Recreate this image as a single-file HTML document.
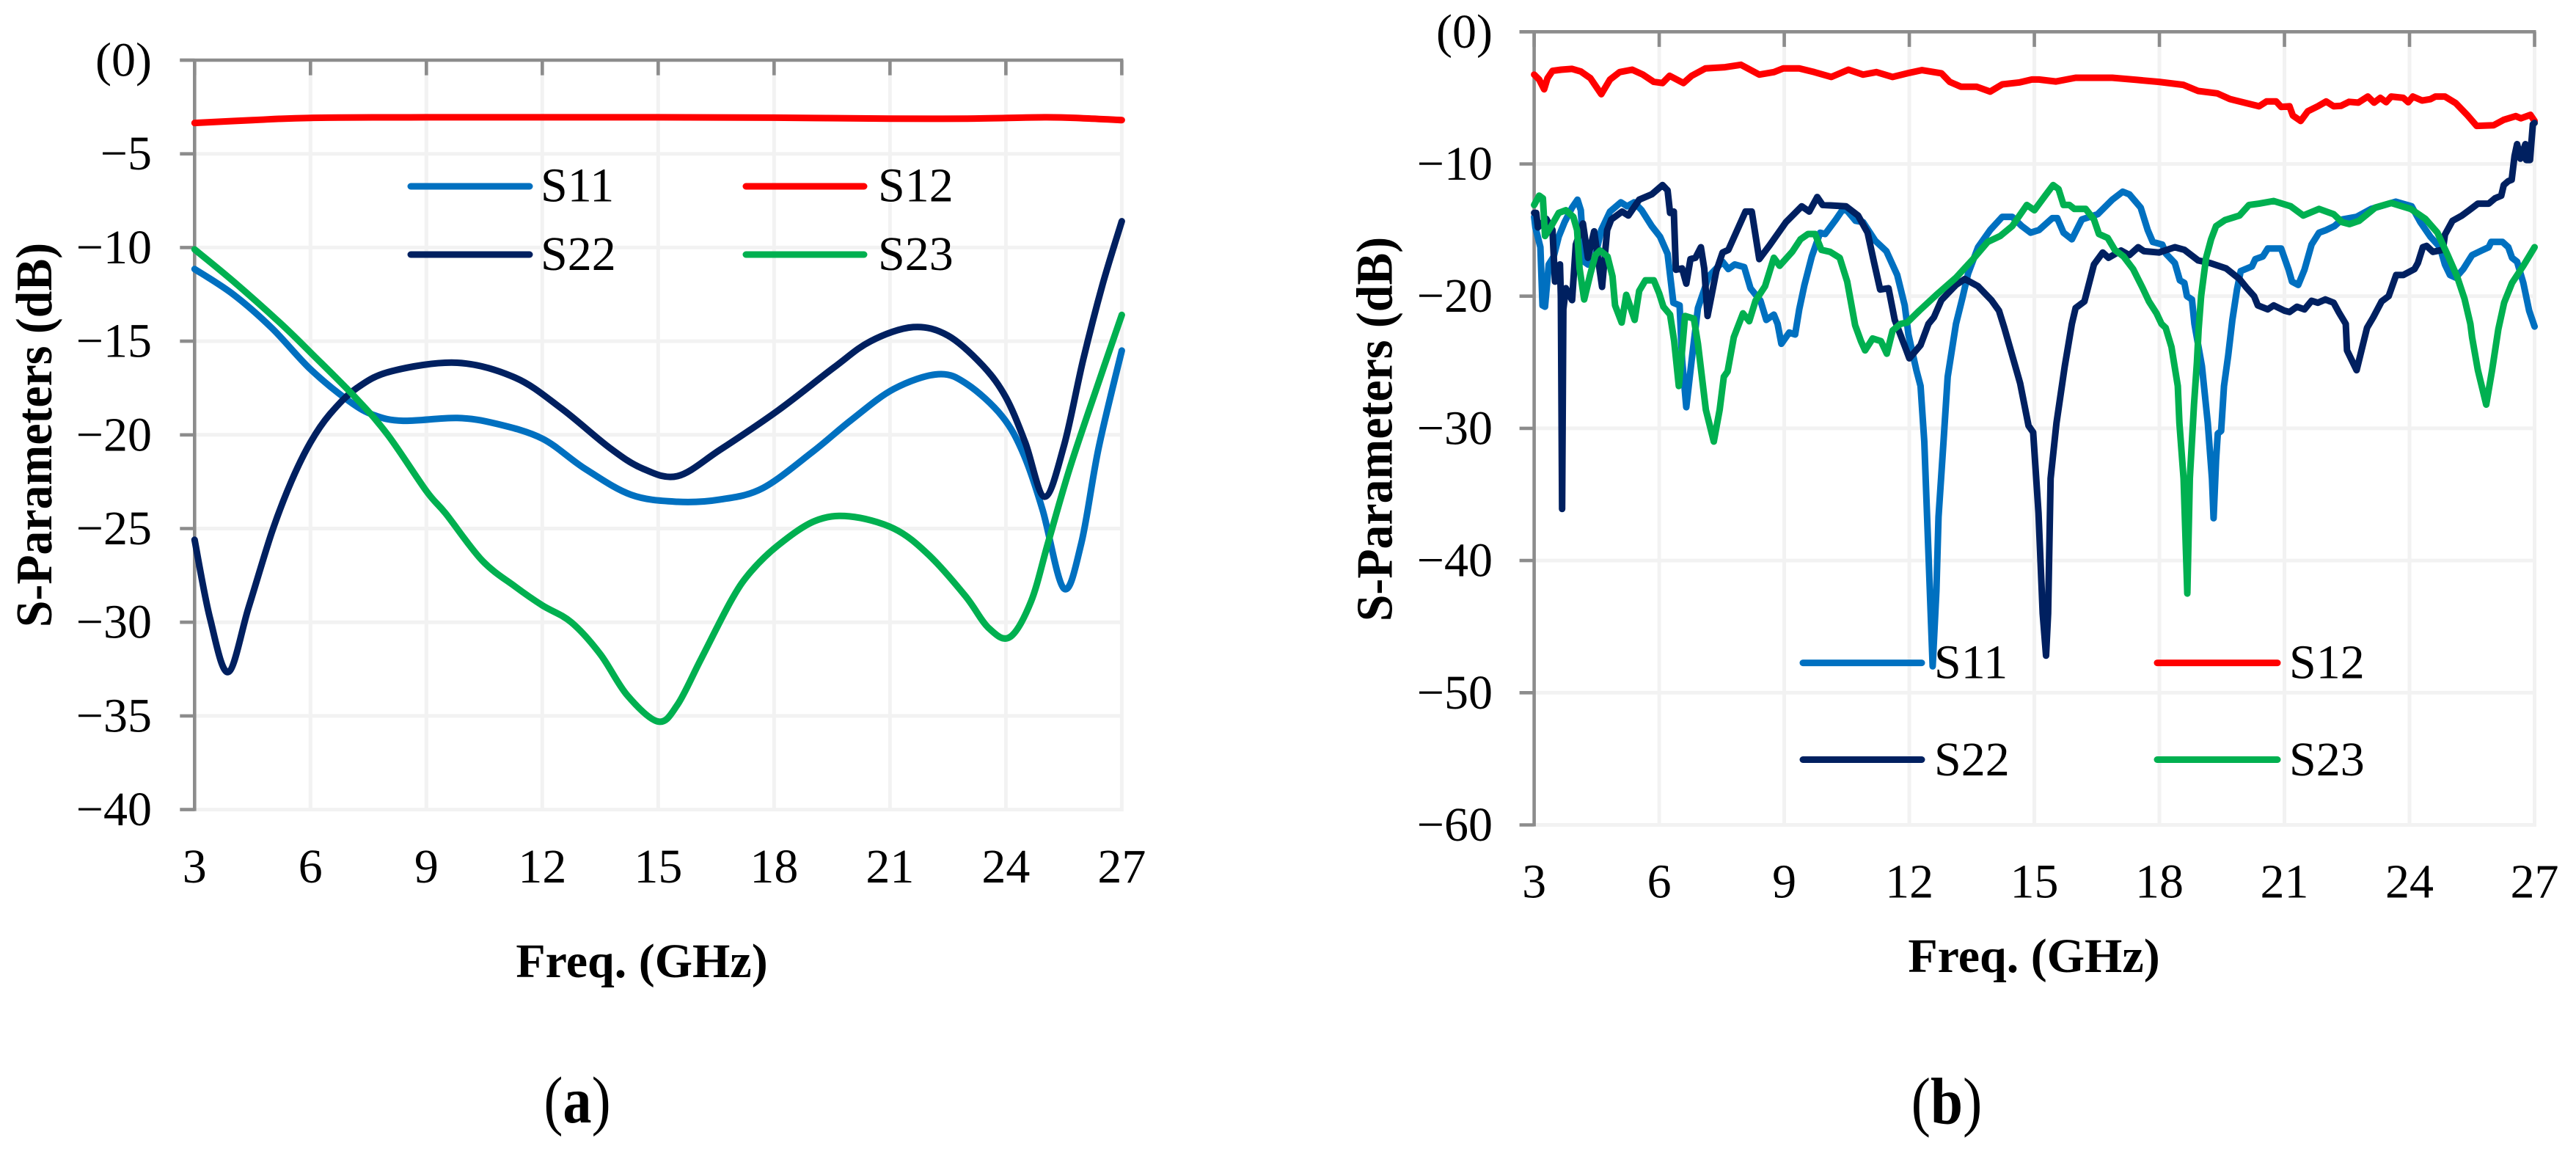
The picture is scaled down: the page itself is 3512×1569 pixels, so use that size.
<!DOCTYPE html>
<html lang="en">
<head>
<meta charset="utf-8">
<title>S-Parameters simulated and measured</title>
<style>
html,body{margin:0;padding:0;background:#fff;}
svg{display:block;font-family:"Liberation Serif",serif;}
</style>
</head>
<body>
<svg id="figure" xmlns="http://www.w3.org/2000/svg" width="3512" height="1569" viewBox="0 0 3512 1569"></svg>
<script>
/* ---------- shared axis data ---------- */
const xTicks = [3, 6, 9, 12, 15, 18, 21, 24, 27];
const yTicksA = [0, -5, -10, -15, -20, -25, -30, -35, -40];
const yLabelsA = ['(0)', '\u22125', '\u221210', '\u221215', '\u221220', '\u221225', '\u221230', '\u221235', '\u221240'];
const yTicksB = [0, -10, -20, -30, -40, -50, -60];
const yLabelsB = ['(0)', '\u221210', '\u221220', '\u221230', '\u221240', '\u221250', '\u221260'];

/* ---------- chart (a) data ---------- */
const aS11Freq = [3, 4, 5, 6, 7, 7.65, 8.4, 9.8, 10.8, 12, 13.1, 14.3, 15.5, 16.6, 17.7, 19, 20, 21.1, 22.25, 23, 23.9, 24.45, 24.95, 25.5, 25.95, 26.4, 27];
const aS11Val = [-11.15, -12.5, -14.3, -16.5, -18.2, -18.95, -19.25, -19.1, -19.4, -20.2, -21.8, -23.2, -23.57, -23.45, -22.85, -20.9, -19.2, -17.55, -16.76, -17.3, -19, -21, -24, -28.2, -25.8, -20.7, -15.5];
const aS12Freq = [3, 4.5, 6, 9, 12, 15, 18, 21, 23, 25, 26, 27];
const aS12Val = [-3.35, -3.2, -3.08, -3.05, -3.05, -3.05, -3.07, -3.12, -3.12, -3.05, -3.1, -3.2];
const aS22Freq = [3, 3.4, 3.87, 4.4, 5, 5.5, 6, 6.5, 7.2, 8.1, 9.8, 11.3, 12.5, 13.75, 14.6, 15.5, 16.6, 18.1, 19.55, 20.5, 21.6, 22.5, 23.4, 24, 24.5, 25, 25.5, 26, 26.5, 27];
const aS22Val = [-25.6, -29.8, -32.66, -29.2, -25.2, -22.5, -20.4, -18.9, -17.5, -16.6, -16.15, -16.95, -18.6, -20.7, -21.8, -22.2, -20.8, -18.7, -16.4, -15, -14.25, -14.7, -16.3, -18, -20.4, -23.3, -20.6, -16, -12, -8.6];
const aS23Freq = [3, 4, 5.2, 6, 7.16, 8, 9, 9.5, 10.44, 11.3, 12, 12.75, 13.5, 14.2, 15, 15.5, 16.1, 16.9, 17.4, 18.1, 19.05, 19.95, 21.1, 22, 22.95, 23.55, 24.1, 24.65, 25.1, 25.65, 26.4, 27];
const aS23Val = [-10.1, -11.8, -14, -15.6, -18, -20, -23, -24.2, -26.7, -28.1, -29.1, -30, -31.7, -33.9, -35.3, -34.4, -32, -28.8, -27.3, -25.9, -24.6, -24.35, -25, -26.4, -28.6, -30.3, -30.8, -28.9, -25.7, -21.8, -17.2, -13.6];

/* ---------- chart (b) data ---------- */
const bS11Freq = [3, 3.03, 3.15, 3.2, 3.26, 3.35, 3.47, 3.59, 3.73, 3.91, 4.04, 4.12, 4.2, 4.29, 4.45, 4.61, 4.82, 5.08, 5.23, 5.4, 5.58, 5.82, 6.02, 6.2, 6.34, 6.49, 6.55, 6.65, 6.78, 6.93, 7.19, 7.52, 7.66, 7.81, 8.04, 8.19, 8.43, 8.57, 8.75, 8.84, 8.93, 9.12, 9.26, 9.36, 9.48, 9.66, 9.86, 9.98, 10.24, 10.39, 10.5, 10.71, 10.89, 11.18, 11.45, 11.71, 11.89, 11.98, 12.17, 12.27, 12.36, 12.46, 12.56, 12.65, 12.7, 12.82, 12.92, 13.12, 13.27, 13.41, 13.65, 13.94, 14.23, 14.47, 14.7, 14.91, 15.11, 15.43, 15.55, 15.7, 15.9, 16.14, 16.52, 16.87, 17.12, 17.28, 17.55, 17.72, 17.84, 18.07, 18.16, 18.37, 18.49, 18.6, 18.66, 18.78, 18.84, 19.02, 19.16, 19.26, 19.3, 19.36, 19.4, 19.48, 19.55, 19.65, 19.75, 19.86, 19.95, 20.22, 20.3, 20.48, 20.6, 20.92, 21.1, 21.18, 21.33, 21.48, 21.65, 21.83, 22, 22.2, 22.38, 22.73, 23.08, 23.67, 24.05, 24.26, 24.5, 24.73, 24.85, 24.97, 25.11, 25.29, 25.5, 25.73, 25.9, 25.96, 26.23, 26.37, 26.46, 26.58, 26.73, 26.87, 27];
const bS11Val = [-14, -14.8, -16.3, -20.7, -20.8, -17.6, -17, -15.5, -14.4, -13.3, -12.7, -13.5, -17.4, -17.6, -17.2, -15, -13.6, -12.9, -13.2, -12.9, -13.5, -14.7, -15.5, -16.8, -20.5, -20.7, -24.8, -28.4, -24.8, -20.9, -18.5, -17.4, -17.95, -17.6, -17.8, -19.4, -20.35, -21.8, -21.4, -22.1, -23.6, -22.75, -22.9, -21, -19.2, -17, -15.2, -15.3, -14.2, -13.5, -13.5, -14.3, -14.4, -15.8, -16.6, -18.4, -20.7, -22.9, -25.6, -26.8, -31, -39.5, -48, -42.3, -36.7, -31, -26.1, -22.1, -20.2, -18.3, -16.3, -15, -14, -14, -14.7, -15.2, -15, -14.1, -14.1, -15.2, -15.7, -14.2, -13.8, -12.7, -12.1, -12.3, -13.3, -15, -15.9, -16.1, -16.8, -17.5, -18.8, -19, -20, -20.25, -22.1, -25.3, -29.6, -33.8, -36.8, -32.4, -30.4, -30.2, -26.8, -24.5, -21.8, -19.5, -18.1, -17.75, -17.2, -17, -16.4, -16.4, -18, -18.9, -19.15, -18, -16.1, -15.2, -15, -14.7, -14.2, -14, -13.4, -12.85, -13.2, -14.4, -15.5, -16.3, -17.6, -18.4, -18.6, -17.95, -16.9, -16.55, -16.3, -15.9, -15.9, -16.3, -17.1, -17.4, -19, -21.1, -22.3];
const bS12Freq = [3, 3.12, 3.24, 3.32, 3.44, 3.65, 3.91, 4.12, 4.35, 4.61, 4.82, 5.05, 5.35, 5.61, 5.87, 6.08, 6.25, 6.58, 6.78, 7.11, 7.58, 7.96, 8.4, 8.75, 8.98, 9.36, 9.72, 10.13, 10.54, 10.89, 11.21, 11.6, 12, 12.3, 12.77, 12.97, 13.24, 13.62, 13.94, 14.23, 14.65, 14.94, 15.11, 15.52, 15.99, 16.87, 17.46, 17.99, 18.57, 18.93, 19.39, 19.69, 20.39, 20.57, 20.8, 20.92, 21.12, 21.2, 21.39, 21.56, 21.8, 22, 22.18, 22.36, 22.55, 22.77, 23, 23.15, 23.3, 23.44, 23.56, 23.85, 23.97, 24.08, 24.3, 24.5, 24.62, 24.85, 25.11, 25.38, 25.61, 26.02, 26.26, 26.55, 26.67, 26.9, 27];
const bS12Val = [-3.24, -3.61, -4.35, -3.51, -2.96, -2.87, -2.81, -3, -3.51, -4.72, -3.61, -3.05, -2.87, -3.24, -3.79, -3.88, -3.33, -3.88, -3.33, -2.77, -2.68, -2.5, -3.24, -3.05, -2.77, -2.77, -3.05, -3.42, -2.87, -3.24, -3.05, -3.42, -3.11, -2.9, -3.14, -3.79, -4.16, -4.16, -4.53, -3.98, -3.83, -3.61, -3.61, -3.76, -3.48, -3.48, -3.64, -3.79, -4.01, -4.48, -4.66, -5.09, -5.64, -5.27, -5.27, -5.68, -5.64, -6.33, -6.75, -6.01, -5.64, -5.27, -5.64, -5.6, -5.3, -5.36, -4.9, -5.36, -5, -5.33, -4.9, -5, -5.33, -4.9, -5.2, -5.1, -4.9, -4.9, -5.4, -6.29, -7.12, -7.07, -6.66, -6.38, -6.55, -6.29, -6.75];
const bS22Freq = [3, 3.05, 3.09, 3.29, 3.44, 3.5, 3.62, 3.64, 3.67, 3.7, 3.76, 3.91, 4, 4.17, 4.29, 4.44, 4.63, 4.75, 4.85, 5.11, 5.26, 5.52, 5.82, 6.08, 6.2, 6.26, 6.35, 6.4, 6.55, 6.65, 6.75, 6.87, 7, 7.08, 7.16, 7.37, 7.52, 7.66, 8.07, 8.22, 8.4, 8.66, 9.04, 9.42, 9.6, 9.79, 9.92, 10.48, 10.77, 11, 11.15, 11.3, 11.5, 11.65, 11.9, 12, 12.27, 12.46, 12.59, 12.77, 13.12, 13.33, 13.65, 13.97, 14.15, 14.28, 14.57, 14.66, 14.86, 14.97, 15.1, 15.2, 15.28, 15.33, 15.39, 15.53, 15.73, 15.9, 15.99, 16.2, 16.43, 16.64, 16.78, 17.08, 17.28, 17.49, 17.63, 17.99, 18.37, 18.6, 18.93, 19.22, 19.6, 19.92, 20.1, 20.27, 20.36, 20.6, 20.74, 21, 21.12, 21.3, 21.48, 21.65, 21.8, 21.98, 22.18, 22.3, 22.47, 22.5, 22.73, 22.98, 23.13, 23.33, 23.5, 23.68, 23.85, 24.12, 24.2, 24.32, 24.41, 24.56, 24.8, 24.85, 25.03, 25.26, 25.43, 25.64, 25.9, 26.05, 26.2, 26.26, 26.37, 26.45, 26.52, 26.58, 26.66, 26.78, 26.8, 26.89, 26.92, 26.96, 27];
const bS22Val = [-13.7, -13.7, -14.8, -14.15, -15, -18.9, -17.6, -20, -36.1, -21, -19.4, -20.3, -16.1, -14.5, -17.1, -15.1, -19.3, -15, -14.2, -13.6, -13.9, -12.7, -12.3, -11.6, -12, -13.7, -13.6, -18, -17.9, -19.05, -17.2, -17.1, -16.3, -17.9, -21.5, -18.1, -16.7, -16.5, -13.6, -13.6, -17.2, -16.1, -14.4, -13.2, -13.6, -12.5, -13.1, -13.2, -13.9, -15.2, -17.4, -19.5, -19.4, -21.8, -23.85, -24.7, -23.7, -22.1, -21.6, -20.3, -19.15, -18.7, -19.25, -20.3, -21.1, -22.4, -25.6, -26.6, -29.8, -30.3, -36.4, -44, -47.2, -44, -33.8, -29.6, -25.3, -22.1, -20.9, -20.4, -17.6, -16.7, -17.1, -16.55, -16.9, -16.3, -16.6, -16.7, -16.3, -16.5, -17.3, -17.5, -17.9, -18.7, -19.4, -20, -20.7, -21, -20.7, -21.1, -21.2, -20.8, -21, -20.35, -20.5, -20.25, -20.5, -21.2, -22.1, -24.1, -25.6, -22.4, -21.6, -20.4, -20, -18.4, -18.4, -17.95, -17.5, -16.3, -16.2, -16.65, -16.5, -15.35, -14.3, -13.9, -13.5, -13, -13, -12.6, -12.4, -11.6, -11.3, -11.2, -9.4, -8.5, -9.6, -8.5, -9.7, -9.7, -8.5, -7, -6.9];
const bS23Freq = [3, 3.12, 3.21, 3.26, 3.41, 3.59, 3.76, 3.94, 4.03, 4.09, 4.2, 4.35, 4.47, 4.58, 4.76, 4.88, 4.94, 5.1, 5.21, 5.41, 5.52, 5.67, 5.87, 6, 6.1, 6.26, 6.36, 6.47, 6.53, 6.62, 6.83, 6.93, 7.12, 7.31, 7.45, 7.55, 7.64, 7.79, 8.01, 8.16, 8.31, 8.54, 8.75, 8.89, 9.19, 9.39, 9.57, 9.74, 9.89, 10.1, 10.33, 10.51, 10.7, 10.84, 10.94, 11.12, 11.32, 11.46, 11.6, 11.79, 11.95, 12.24, 12.65, 13.12, 13.53, 13.88, 14.18, 14.47, 14.82, 15, 15.26, 15.45, 15.58, 15.7, 15.84, 15.96, 16.23, 16.43, 16.55, 16.76, 16.93, 17.14, 17.37, 17.6, 17.75, 17.93, 18.05, 18.15, 18.29, 18.44, 18.48, 18.58, 18.67, 18.73, 18.83, 18.9, 18.94, 19, 19.12, 19.24, 19.36, 19.57, 19.92, 20.15, 20.39, 20.74, 21.15, 21.45, 21.83, 22.18, 22.38, 22.56, 22.79, 23.18, 23.56, 24.03, 24.38, 24.67, 24.91, 25.14, 25.32, 25.46, 25.5, 25.64, 25.84, 25.98, 26.13, 26.27, 26.46, 26.73, 27];
const bS23Val = [-13.1, -12.4, -12.6, -15.45, -14.7, -13.7, -13.5, -14, -15, -17.9, -20.25, -18.3, -16.9, -16.55, -17, -18.5, -20.7, -22, -19.9, -21.8, -19.6, -18.8, -18.8, -19.8, -20.8, -21.4, -23.4, -26.8, -24.8, -21.5, -21.7, -23.6, -28.6, -31, -28.6, -26.1, -25.7, -23.1, -21.3, -21.9, -20.35, -19.25, -17.1, -17.7, -16.65, -15.7, -15.3, -15.3, -16.5, -16.65, -17.1, -18.9, -22.2, -23.4, -24.1, -23.2, -23.4, -24.35, -22.6, -22.1, -22, -21.1, -19.9, -18.6, -17.2, -15.9, -15.45, -14.7, -13.1, -13.5, -12.4, -11.6, -11.9, -13.1, -13.1, -13.4, -13.4, -14.2, -15.3, -15.6, -16.5, -17, -17.95, -19.4, -20.4, -21.3, -22.1, -22.4, -23.85, -26.8, -29.6, -33.8, -42.5, -33.8, -28.2, -25, -22.5, -20, -17.1, -15.7, -14.7, -14.25, -13.9, -13.1, -13, -12.8, -13.2, -13.9, -13.4, -13.8, -14.4, -14.55, -14.3, -13.3, -12.95, -13.4, -14.15, -15.2, -16.85, -18.5, -20.2, -22.1, -23.1, -25.6, -28.2, -25.6, -22.5, -20.5, -19, -17.7, -16.3];

/* ---------- series styles ---------- */
const seriesColors = { S11: '#0070C0', S12: '#FF0000', S22: '#002060', S23: '#00B050' };

/* ---------- axis functions ---------- */
function xA(f) { return 265.3 + (f - 3) * 52.67; }
function yA(v) { return 82 - v * 25.54; }
function xB(f) { return 2091.6 + (f - 3) * 56.83; }
function yB(v) { return 43.3 - v * 18.02; }

const root = document.getElementById('figure');
const NS = 'http://www.w3.org/2000/svg';

function make(parent, tag, attrs, name) {
  const el = document.createElementNS(NS, tag);
  for (const k in attrs) el.setAttribute(k, attrs[k]);
  
  
  parent.appendChild(el);
  return el;
}
function label(parent, str, x, y, size, opts, name) {
  const o = opts || {};
  const a = { x: x, y: y, 'font-size': size, fill: '#000' };
  if (o.anchor) a['text-anchor'] = o.anchor;
  if (o.bold) a['font-weight'] = 'bold';
  if (o.transform) a.transform = o.transform;
  const t = make(parent, 'text', a, name);
  t.textContent = str;
  return t;
}
function straightPath(fx, fy, freq, vals) {
  return freq.map(function (f, i) { return (i ? 'L' : 'M') + fx(f).toFixed(1) + ' ' + fy(vals[i]).toFixed(1); }).join('');
}
function smoothPath(fx, fy, freq, vals) {
  const p = freq.map(function (f, i) { return [fx(f), fy(vals[i])]; });
  let d = 'M' + p[0][0].toFixed(1) + ' ' + p[0][1].toFixed(1);
  for (let i = 0; i < p.length - 1; i++) {
    const a = p[Math.max(i - 1, 0)], b = p[i], c = p[i + 1], e = p[Math.min(i + 2, p.length - 1)];
    const c1x = b[0] + (c[0] - a[0]) / 6, c1y = b[1] + (c[1] - a[1]) / 6;
    const c2x = c[0] - (e[0] - b[0]) / 6, c2y = c[1] - (e[1] - b[1]) / 6;
    d += 'C' + c1x.toFixed(1) + ' ' + c1y.toFixed(1) + ' ' + c2x.toFixed(1) + ' ' + c2y.toFixed(1) + ' ' + c[0].toFixed(1) + ' ' + c[1].toFixed(1);
  }
  return d;
}

function drawFrame(prefix, g, fx, fy, yTicks, yLabels, cfg) {
  const x0 = fx(xTicks[0]), x1 = fx(xTicks[xTicks.length - 1]);
  const yTop = fy(yTicks[0]), yBot = fy(yTicks[yTicks.length - 1]);
  yTicks.forEach(function (v) {
    if (v !== 0) make(g, 'line', { x1: x0, x2: x1 + 2, y1: fy(v), y2: fy(v), stroke: '#f2f2f2', 'stroke-width': 5 }, prefix + '-h-gridline');
  });
  xTicks.forEach(function (f) {
    if (f !== 3) make(g, 'line', { x1: fx(f), x2: fx(f), y1: yTop, y2: yBot + 2, stroke: '#f2f2f2', 'stroke-width': 5 }, prefix + '-v-gridline');
  });
  make(g, 'line', { x1: x0 - cfg.tickLen, x2: x1 + 2, y1: yTop, y2: yTop, stroke: '#8c8c8c', 'stroke-width': 4.6 }, prefix + '-x-axis-line');
  make(g, 'line', { x1: x0, x2: x0, y1: yTop - 2, y2: yBot + 2, stroke: '#8c8c8c', 'stroke-width': 4.6 }, prefix + '-y-axis-line');
  yTicks.forEach(function (v, i) {
    make(g, 'line', { x1: x0 - cfg.tickLen, x2: x0, y1: fy(v), y2: fy(v), stroke: '#8c8c8c', 'stroke-width': 4.6 }, prefix + '-y-tick');
    label(g, yLabels[i], cfg.yLabelX, fy(v) + 21.5, cfg.tickFont, { anchor: 'end' }, prefix + '-y-tick-label');
  });
  xTicks.forEach(function (f) {
    make(g, 'line', { x1: fx(f), x2: fx(f), y1: yTop, y2: yTop + 20.6, stroke: '#8c8c8c', 'stroke-width': 4.6 }, prefix + '-x-tick');
    label(g, String(f), fx(f), cfg.xLabelY, cfg.tickFont, { anchor: 'middle' }, prefix + '-x-tick-label');
  });
  label(g, 'Freq. (GHz)', cfg.xTitleX, cfg.xTitleY, 66, { anchor: 'middle', bold: true }, prefix + '-x-axis-title');
  label(g, 'S-Parameters (dB)', 0, 0, 70, {
    anchor: 'middle', bold: true,
    transform: 'translate(' + cfg.yTitleX + ' ' + cfg.yTitleY + ') rotate(-90) scale(0.94 1)'
  }, prefix + '-y-axis-title');
}

function drawSeries(prefix, g, name, d) {
  make(g, 'path', { d: d, fill: 'none', stroke: seriesColors[name], 'stroke-width': 9, 'stroke-linejoin': 'round', 'stroke-linecap': 'round' }, prefix + '-series-' + name.toLowerCase());
}

function drawLegend(prefix, g, entries) {
  entries.forEach(function (e) {
    const lg = make(g, 'g', {}, prefix + '-legend-entry-' + e.name.toLowerCase());
    make(lg, 'line', { x1: e.x1, x2: e.x2, y1: e.y, y2: e.y, stroke: seriesColors[e.name], 'stroke-width': 9, 'stroke-linecap': 'round' }, prefix + '-legend-swatch-' + e.name.toLowerCase());
    label(lg, e.name, e.tx, e.ty, 66, {}, prefix + '-legend-label-' + e.name.toLowerCase());
  });
}

/* ---------- chart (a) ---------- */
const chartA = make(root, 'g', {}, 'chart-a');
drawFrame('chart-a', chartA, xA, yA, yTicksA, yLabelsA, {
  tickLen: 20, yLabelX: 207, xLabelY: 1203, tickFont: 66,
  xTitleX: 875, xTitleY: 1332, yTitleX: 70, yTitleY: 593
});
drawSeries('chart-a', chartA, 'S11', smoothPath(xA, yA, aS11Freq, aS11Val));
drawSeries('chart-a', chartA, 'S12', smoothPath(xA, yA, aS12Freq, aS12Val));
drawSeries('chart-a', chartA, 'S22', smoothPath(xA, yA, aS22Freq, aS22Val));
drawSeries('chart-a', chartA, 'S23', smoothPath(xA, yA, aS23Freq, aS23Val));
drawLegend('chart-a', chartA, [
  { name: 'S11', x1: 560, x2: 722, y: 254, tx: 737, ty: 274.5 },
  { name: 'S12', x1: 1017, x2: 1178, y: 254, tx: 1197, ty: 274.5 },
  { name: 'S22', x1: 560, x2: 722, y: 347, tx: 737, ty: 368 },
  { name: 'S23', x1: 1017, x2: 1178, y: 347, tx: 1197, ty: 368 }
]);
const capA = make(root, 'text', { transform: 'translate(787 1530) scale(0.87 1)', 'font-size': 90, 'text-anchor': 'middle', fill: '#000' }, 'chart-a-caption');
capA.innerHTML = '(<tspan font-weight="bold">a</tspan>)';

/* ---------- chart (b) ---------- */
const chartB = make(root, 'g', {}, 'chart-b');
drawFrame('chart-b', chartB, xB, yB, yTicksB, yLabelsB, {
  tickLen: 20, yLabelX: 2035, xLabelY: 1223.5, tickFont: 66,
  xTitleX: 2773, xTitleY: 1325, yTitleX: 1897.5, yTitleY: 585
});
drawSeries('chart-b', chartB, 'S11', straightPath(xB, yB, bS11Freq, bS11Val));
drawSeries('chart-b', chartB, 'S12', straightPath(xB, yB, bS12Freq, bS12Val));
drawSeries('chart-b', chartB, 'S22', straightPath(xB, yB, bS22Freq, bS22Val));
drawSeries('chart-b', chartB, 'S23', straightPath(xB, yB, bS23Freq, bS23Val));
drawLegend('chart-b', chartB, [
  { name: 'S11', x1: 2458, x2: 2620, y: 903.6, tx: 2637, ty: 924.5 },
  { name: 'S12', x1: 2941, x2: 3105, y: 903.6, tx: 3121, ty: 924.5 },
  { name: 'S22', x1: 2458, x2: 2620, y: 1035.5, tx: 2637, ty: 1057 },
  { name: 'S23', x1: 2941, x2: 3105, y: 1035.5, tx: 3121, ty: 1057 }
]);
const capB = make(root, 'text', { transform: 'translate(2654 1531.5) scale(0.88 1)', 'font-size': 90, 'text-anchor': 'middle', fill: '#000' }, 'chart-b-caption');
capB.innerHTML = '(<tspan font-weight="bold">b</tspan>)';
</script>
</body>
</html>
